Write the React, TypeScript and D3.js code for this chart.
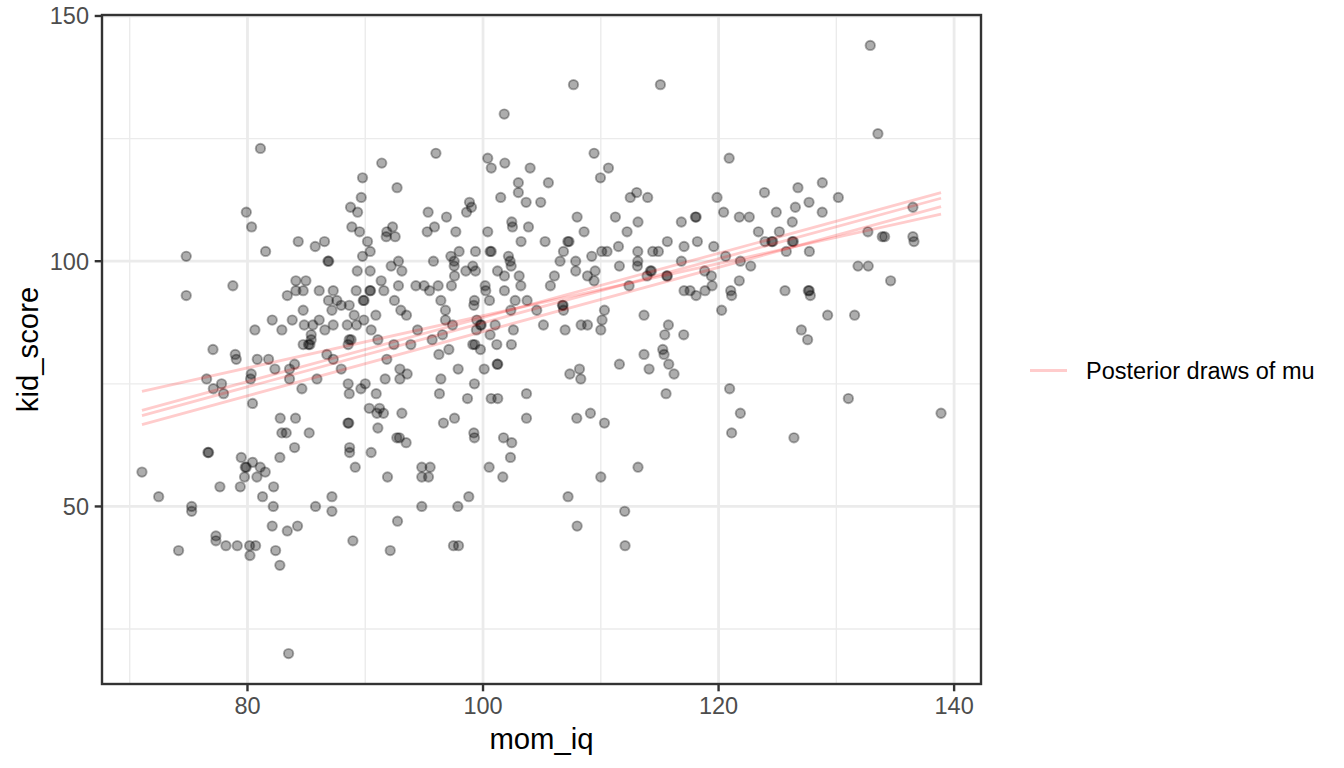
import React from 'react';
import * as d3 from 'd3';

// kidiq sample
const momIq: number[] = [
  // top band
  81.1, 79.9, 80.35, 84.31,
  101.8, 96.0, 91.4, 100.4, 100.7, 101.85, 104.0, 89.77, 92.7, 103.0, 103.0, 89.66, 101.5, 103.66, 104.9,
  88.75, 89.35, 95.34, 96.9, 98.85, 99.02, 98.6, 88.86, 89.52, 92.32, 91.83, 91.78, 92.54, 95.26, 95.88,
  97.69, 100.4, 102.44, 102.5, 103.86, 90.19, 103.23, 105.27,
  107.68, 115.06, 109.43, 110.65, 109.97, 105.55, 107.99, 108.58, 111.24, 112.5, 113.05, 113.98, 113.16,
  112.23, 116.84, 118.03, 118.1, 119.87, 120.43, 120.9, 121.76, 122.61, 123.9, 123.38,
  132.88, 133.53, 126.74, 128.81, 130.17, 127.68, 126.52, 124.9, 128.8, 126.26, 125.16, 136.5, 132.68,
  133.9, 134.1, 136.5,
  // middle band, left
  74.8, 81.54, 85.75, 74.8, 78.76, 84.11, 84.96, 84.11, 84.73, 83.38, 86.09, 84.73, 82.1, 83.8, 80.63,
  82.92, 84.82, 85.55, 86.09, 85.41, 84.73, 85.18, 85.3, 85.41, 77.07, 78.96, 79.05, 80.83, 81.79, 82.33,
  83.57, 84.0, 76.53, 77.8, 77.1, 77.97, 80.32, 80.26, 83.57, 85.9, 84.62, 80.43, 82.78, 84.08, 82.92,
  83.29, 85.24, 84.0, 76.64, 76.7, 79.47, 80.43, 82.75,
  // middle band, centre
  86.54, 90.42, 89.77, 86.83, 86.9, 89.32, 90.42, 92.2, 92.82, 93.11, 95.79, 97.27, 97.97, 97.55, 97.55,
  99.36, 100.6, 100.7, 99.13, 99.36, 98.54, 102.16, 102.3, 102.39, 101.23, 101.82, 103.07, 103.21,
  101.82, 100.18, 100.23, 97.58, 97.32, 96.19, 95.46, 95.0, 94.3, 92.82, 91.35, 91.58, 90.39, 90.45,
  89.23, 87.28, 89.83, 89.9, 92.48, 86.88, 87.59, 87.96, 88.64, 87.17, 93.02, 93.5, 89.06, 89.88, 90.9,
  86.57, 87.28, 88.47, 89.26, 90.5, 88.64, 88.8, 88.55, 91.07, 92.43, 93.87, 94.44, 95.68, 96.56, 96.42,
  96.81, 96.81, 97.41, 96.25, 97.1, 97.89, 99.27, 99.22, 99.47, 99.78, 99.85, 99.44, 100.55, 101.03,
  100.6, 99.13, 99.3, 99.78, 101.17, 102.41, 102.58, 102.36, 103.74, 102.73, 104.56, 101.2, 101.25,
  100.1, 99.27, 86.74, 87.28, 87.96, 91.83, 92.94, 93.56, 92.94, 91.69, 90.0, 89.63, 88.55, 88.64, 90.93,
  96.42, 96.3, 98.68, 100.69, 101.25, 103.69, 103.69, 90.34, 91.21, 90.99, 91.55, 93.11, 88.53, 88.6,
  91.07, 92.68, 92.9, 93.47, 96.64, 97.58, 99.22, 99.27, 101.74, 102.44, 102.33, 88.67, 88.67, 90.5,
  // middle band, right
  107.2, 107.3, 106.83, 106.54, 107.87, 107.87, 109.23, 110.08, 110.53, 111.5, 113.14, 113.14, 113.11,
  114.41, 114.89, 115.65, 117.07, 118.2, 119.59, 120.6, 121.85, 122.73, 116.84, 111.58, 109.52, 108.87,
  109.43, 106.06, 105.72, 114.21, 114.3, 113.93, 115.6, 115.65, 112.4, 118.82, 119.39, 119.45, 118.85,
  118.09, 117.58, 117.07, 121.76, 121.03, 121.11, 120.26, 106.74, 106.8, 106.83, 110.31, 110.11, 110.0,
  108.33, 108.87, 106.97, 105.13, 113.67, 115.74, 115.43, 117.04, 115.26, 115.37, 113.67, 115.77, 114.1,
  116.22, 111.58, 108.19, 107.37, 108.3, 115.54, 120.94, 121.85, 121.11, 107.96, 109.12, 110.31,
  124.51, 124.6, 123.94, 126.26, 126.35, 125.75, 127.71, 136.59, 131.84, 132.71, 134.61, 125.64, 127.62,
  127.7, 127.79, 129.26, 131.55, 127.03, 127.56, 131.02, 138.89, 126.4,
  // bottom band
  71.04, 72.46, 75.26, 75.26, 77.66, 79.39, 79.81, 79.9, 79.75, 81.08, 80.8, 81.51, 81.28, 82.22, 82.19,
  85.78, 82.1, 83.38, 84.25, 77.32, 77.32, 78.17, 79.13, 80.18, 80.69, 80.21, 74.15, 82.39, 82.75, 83.49,
  89.15, 91.89, 94.8, 95.51, 94.8, 95.37, 87.17, 87.17, 94.8, 97.86, 98.79, 92.74, 88.95, 92.12, 97.49,
  97.92, 100.52, 101.68,
  113.16, 110.0, 107.22, 112.03, 107.99, 112.06,
];

const kidScore: number[] = [
  123, 110, 107, 104,
  130, 122, 120, 121, 119, 120, 119, 117, 115, 116, 114, 113, 113, 112, 112,
  111, 110, 110, 109, 112, 111, 110, 107, 106, 107, 106, 105, 105, 106, 107,
  106, 106, 108, 107, 107, 104, 104, 104,
  136, 136, 122, 119, 117, 116, 109, 106, 109, 113, 114, 113, 108,
  106, 108, 109, 109, 113, 110, 121, 109, 109, 114, 106,
  144, 126, 115, 116, 113, 112, 111, 110, 110, 108, 106, 111, 106,
  105, 105, 105,
  101, 102, 103, 93, 95, 96, 96, 94, 94, 93, 94, 90, 88, 88, 86,
  86, 87, 87, 88, 85, 83, 83, 83, 84, 82, 81, 80, 80, 80, 78,
  78, 79, 76, 75, 74, 73, 77, 76, 76, 76, 74, 71, 68, 68, 65,
  65, 65, 62, 61, 61, 60, 59, 60,
  104, 102, 101, 100, 100, 98, 98, 99, 100, 98, 100, 101, 102, 100, 99,
  102, 102, 102, 99, 98, 98, 101, 100, 99, 98, 97, 97, 95,
  94, 95, 94, 97, 95, 95, 94, 95, 95, 95, 96, 94, 94, 94,
  94, 94, 92, 92, 92, 92, 92, 91, 91, 90, 90, 89, 89, 88, 89,
  86, 87, 87, 87, 86, 84, 84, 83, 84, 83, 83, 86, 84, 85, 92,
  90, 88, 87, 81, 82, 78, 92, 91, 88, 87, 87, 86, 92, 87,
  85, 83, 83, 82, 83, 83, 86, 90, 92, 92, 90, 79, 79,
  78, 75, 81, 80, 78, 80, 78, 77, 76, 76, 75, 74, 75, 73, 73,
  76, 73, 72, 72, 72, 73, 68, 70, 70, 69, 69, 69, 67, 67,
  66, 64, 64, 63, 67, 68, 65, 64, 64, 63, 60, 62, 61, 61,
  104, 104, 102, 100, 100, 98, 101, 102, 102, 103, 102, 100, 99,
  102, 102, 104, 103, 104, 103, 101, 100, 99, 100, 99, 98, 97,
  96, 97, 95, 98, 98, 97, 97, 97, 95, 98, 97, 95, 94,
  93, 94, 94, 96, 94, 93, 90, 91, 91, 90, 90, 88, 86,
  87, 87, 86, 87, 89, 87, 85, 85, 82, 81, 81, 79, 78,
  77, 79, 78, 77, 76, 73, 74, 69, 65, 68, 69, 67,
  104, 104, 104, 104, 104, 102, 102, 104, 99, 99, 96, 94, 94,
  94, 93, 89, 89, 86, 84, 72, 69, 64,
  57, 52, 50, 49, 54, 54, 58, 58, 56, 58, 56, 57, 52, 54, 50,
  50, 46, 45, 46, 44, 43, 42, 42, 42, 42, 40, 41, 41, 38, 20,
  58, 56, 58, 58, 56, 56, 52, 49, 50, 50, 52, 47, 43, 41, 42,
  42, 58, 56,
  58, 56, 52, 49, 46, 42,
];

// posterior draws of mu = a + b * mom_iq
const drawIntercept: number[] = [35.69, 23.16, 22.13, 20.15];
const drawSlope: number[] = [0.532, 0.6538, 0.6531, 0.655];

const xBreaks = [80, 100, 120, 140];
const xMinor = [70, 90, 110, 130];
const yBreaks = [50, 100, 150];
const yMinor = [25, 75, 125];
const legendLabel = 'Posterior draws of mu';

const FONT = '"Liberation Sans", Arial, Helvetica, sans-serif';

const App: React.FC = () => {
  const width = 1344;
  const height = 768;
  const panel = { left: 102, right: 981, top: 15, bottom: 684 };

  const xMin = d3.min(momIq)!;
  const xMax = d3.max(momIq)!;
  const xPad = (xMax - xMin) * 0.05;
  const yPad = (144 - 20) * 0.05;

  const x = d3.scaleLinear()
    .domain([xMin - xPad, xMax + xPad])
    .range([panel.left, panel.right]);
  const y = d3.scaleLinear()
    .domain([20 - yPad, 144 + yPad])
    .range([panel.bottom, panel.top]);

  const line = d3.line<[number, number]>()
    .x(d => x(d[0]))
    .y(d => y(d[1]));

  const points = momIq.map((m, i) => ({ m, k: kidScore[i] }));

  return (
    <svg width={width} height={height}
      style={{ position: 'absolute', left: 0, top: 0, background: '#fff' }}
      fontFamily={FONT}>
      <rect x={0} y={0} width={width} height={height} fill="#fff" />
      {/* grid */}
      <g>
        {xMinor.map(v => (
          <line key={'xm' + v} x1={x(v)} x2={x(v)} y1={panel.top} y2={panel.bottom}
            stroke="#EBEBEB" strokeWidth={1.4} />
        ))}
        {yMinor.map(v => (
          <line key={'ym' + v} x1={panel.left} x2={panel.right} y1={y(v)} y2={y(v)}
            stroke="#EBEBEB" strokeWidth={1.4} />
        ))}
        {xBreaks.map(v => (
          <line key={'xb' + v} x1={x(v)} x2={x(v)} y1={panel.top} y2={panel.bottom}
            stroke="#EBEBEB" strokeWidth={2.8} />
        ))}
        {yBreaks.map(v => (
          <line key={'yb' + v} x1={panel.left} x2={panel.right} y1={y(v)} y2={y(v)}
            stroke="#EBEBEB" strokeWidth={2.8} />
        ))}
      </g>
      {/* points */}
      <g>
        {points.map((p, i) => (
          <circle key={i} cx={x(p.m)} cy={y(p.k)} r={4.7}
            fill="#000" fillOpacity={0.32} stroke="#000" strokeOpacity={0.32} strokeWidth={1.9} />
        ))}
      </g>
      {/* posterior lines */}
      <g>
        {drawIntercept.map((a, i) => (
          <path key={i}
            d={line([[xMin, a + drawSlope[i] * xMin], [xMax, a + drawSlope[i] * xMax]]) || ''}
            fill="none" stroke="red" strokeOpacity={0.2} strokeWidth={2.8} />
        ))}
      </g>
      {/* panel border */}
      <rect x={panel.left} y={panel.top} width={panel.right - panel.left} height={panel.bottom - panel.top}
        fill="none" stroke="#333333" strokeWidth={2.4} />
      {/* x axis */}
      <g>
        {xBreaks.map(v => (
          <g key={v}>
            <line x1={x(v)} x2={x(v)} y1={panel.bottom} y2={panel.bottom + 7.3} stroke="#333333" strokeWidth={2.4} />
            <text x={x(v)} y={panel.bottom + 30} textAnchor="middle" fontSize={23.5} fill="#4D4D4D">{v}</text>
          </g>
        ))}
        <text x={(panel.left + panel.right) / 2} y={749} textAnchor="middle" fontSize={29.3} fill="#000">mom_iq</text>
      </g>
      {/* y axis */}
      <g>
        {yBreaks.map(v => (
          <g key={v}>
            <line x1={panel.left - 7.3} x2={panel.left} y1={y(v)} y2={y(v)} stroke="#333333" strokeWidth={2.4} />
            <text x={panel.left - 13} y={y(v) + 8.4} textAnchor="end" fontSize={23.5} fill="#4D4D4D">{v}</text>
          </g>
        ))}
        <text transform={`translate(38, ${(panel.top + panel.bottom) / 2}) rotate(-90)`}
          textAnchor="middle" fontSize={29.3} fill="#000">kid_score</text>
      </g>
      {/* legend */}
      <g>
        <line x1={1030} x2={1067} y1={370.5} y2={370.5} stroke="red" strokeOpacity={0.2} strokeWidth={2.8} />
        <text x={1086} y={379} fontSize={23.5} fill="#000">{legendLabel}</text>
      </g>
    </svg>
  );
};

export default App;
